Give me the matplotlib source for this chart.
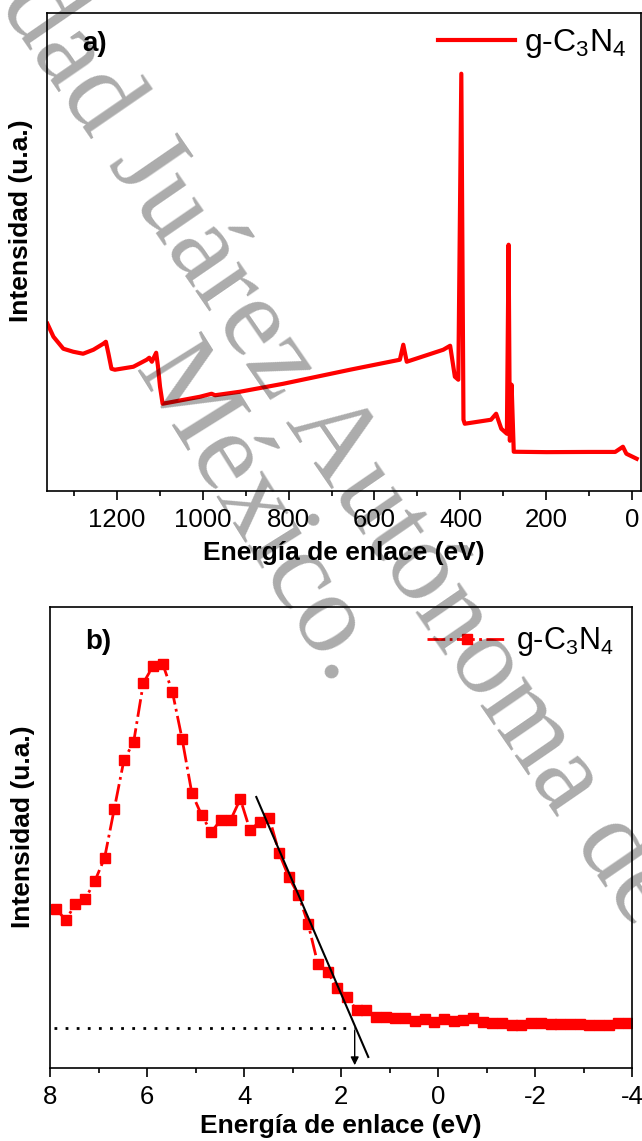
import matplotlib
matplotlib.use('Agg')
from matplotlib import pyplot as plt

plt.rcParams['font.family'] = ['Liberation Sans', 'DejaVu Sans']
plt.rcParams['mathtext.default'] = 'regular'
plt.rcParams['axes.unicode_minus'] = False

# a) espectro XPS general: energia de enlace (eV) e intensidad (u.a.)
survey_energy = [1361, 1347, 1324, 1301, 1278, 1254, 1231, 1225, 1219, 1212, 1204,
                 1161, 1130, 1124, 1118, 1108, 1104, 1099, 1093, 1068, 1006, 979,
                 971, 913, 812, 657, 541, 533, 525, 440, 424, 413, 405, 398,
                 393, 390, 329, 317, 305, 292, 288, 285, 281, 276, 200, 100,
                 40, 22, 14, -10]
survey_int = [167, 154, 142, 139, 137, 141, 147, 149, 137, 122, 121,
              124, 131, 133, 129, 138, 125, 104, 87, 89, 94, 97,
              95.5, 99, 107, 121, 131, 146, 129, 141, 145, 114, 111, 417,
              71, 67, 71, 77, 62, 57, 246, 50, 106, 39, 38.6, 38.8,
              38.8, 44, 37, 32]

# b) banda de valencia
vb_energy = [7.88, 7.68, 7.48, 7.28, 7.08, 6.88, 6.68, 6.48, 6.28, 6.08,
             5.88, 5.68, 5.48, 5.28, 5.08, 4.88, 4.68, 4.48, 4.28, 4.08,
             3.88, 3.68, 3.48, 3.28, 3.08, 2.88, 2.68, 2.48, 2.28, 2.08,
             1.88, 1.68, 1.48, 1.28, 1.08, 0.88, 0.68, 0.48, 0.28, 0.08,
             -0.12, -0.32, -0.52, -0.72, -0.92, -1.12, -1.32, -1.52, -1.72, -1.92,
             -2.12, -2.32, -2.52, -2.72, -2.92, -3.12, -3.32, -3.52, -3.72, -3.92]
vb_int = [159, 148, 164, 169, 187, 210, 259, 308, 326, 385,
          402, 404, 376, 329, 275, 253, 236, 248, 248, 269,
          238, 246, 250, 215, 191, 173, 144, 104, 96, 80,
          71, 58, 58, 51, 51, 50, 50, 47, 49, 46,
          49, 47, 48, 50, 46, 45, 45, 43, 43, 45,
          45, 44, 44, 44, 44, 43, 43, 43, 45, 45]
# extrapolacion lineal del borde y nivel de fondo
tangent_energy = [3.75, 1.44]
tangent_int = [271, 11]
background_level = 40.3
edge_energy = 1.72

fig = plt.figure(figsize=(6.42, 11.41), dpi=100)
ax1 = fig.add_axes([0.0732, 0.5699, 0.9252, 0.4187])
ax2 = fig.add_axes([0.0783, 0.0640, 0.9061, 0.4040])

label = 'g-C$_3$N$_4$'
ax1.plot(survey_energy, survey_int, color='#ff0000', lw=3, label=label)
ax1.set_xlim(1362, -20)
ax1.set_ylim(0, 477.7)
ax1.set_xticks([1200, 1000, 800, 600, 400, 200, 0])
ax1.set_xticks(range(1300, -1, -100), minor=True)

ax2.plot(vb_energy, vb_int, color='#ff0000', lw=2, ls='-.', marker='s', ms=7,
         label=label)
ax2.plot(tangent_energy, tangent_int, color='black', lw=1.5)
ax2.plot([7.92, edge_energy], [background_level, background_level], color='black',
         lw=2, ls=(0, (1, 3)))
ax2.annotate('', xy=(edge_energy, 0), xytext=(edge_energy, background_level),
             arrowprops=dict(arrowstyle='-|>', color='black', lw=1, mutation_scale=12))
ax2.set_xlim(8, -4)
ax2.set_ylim(0, 461)
ax2.set_xticks([8, 6, 4, 2, 0, -2, -4])
ax2.set_xticks(range(7, -4, -1), minor=True)

for ax, tag in [(ax1, 'a)'), (ax2, 'b)')]:
    for s in ax.spines.values():
        s.set_linewidth(1.2)
    ax.set_yticks([])
    ax.tick_params(axis='x', which='major', length=6.5, width=1.2, labelsize=18.5, pad=6)
    ax.tick_params(axis='x', which='minor', length=3.5, width=1.2)
    ax.set_xlabel('Energía de enlace (eV)', fontsize=19, fontweight='bold', labelpad=8)
    ax.set_ylabel('Intensidad (u.a.)', fontsize=19, fontweight='bold')
    ax.text(0.06, 0.962 if ax is ax1 else 0.952, tag, transform=ax.transAxes,
            fontsize=20, fontweight='bold', ha='left', va='top')

ax1.legend(loc='upper right', frameon=False, fontsize=23, handlelength=2.4,
           handletextpad=0.3, borderaxespad=0.05)
ax2.legend(loc='upper right', frameon=False, fontsize=22, handlelength=2.6,
           handletextpad=0.3, numpoints=1, borderaxespad=0.2)
ax1.xaxis.set_label_coords(0.5, -0.105)
ax2.xaxis.set_label_coords(0.5, -0.1)
ax1.yaxis.set_label_coords(-0.024, 0.565)
ax2.yaxis.set_label_coords(-0.026, 0.523)

# marca de agua
fig.text(339 / 642, 1 - 452 / 1141, 'dad Juárez Autónoma de', family='Liberation Serif',
         fontsize=82, color='black', alpha=0.33, rotation=-55.5, rotation_mode='anchor',
         ha='center', va='center')
fig.text(257 / 642, 1 - 515 / 1141, 'México.', family='Liberation Serif',
         fontsize=82, color='black', alpha=0.33, rotation=-58, rotation_mode='anchor',
         ha='center', va='center')

fig.savefig('out.png', dpi=100)
